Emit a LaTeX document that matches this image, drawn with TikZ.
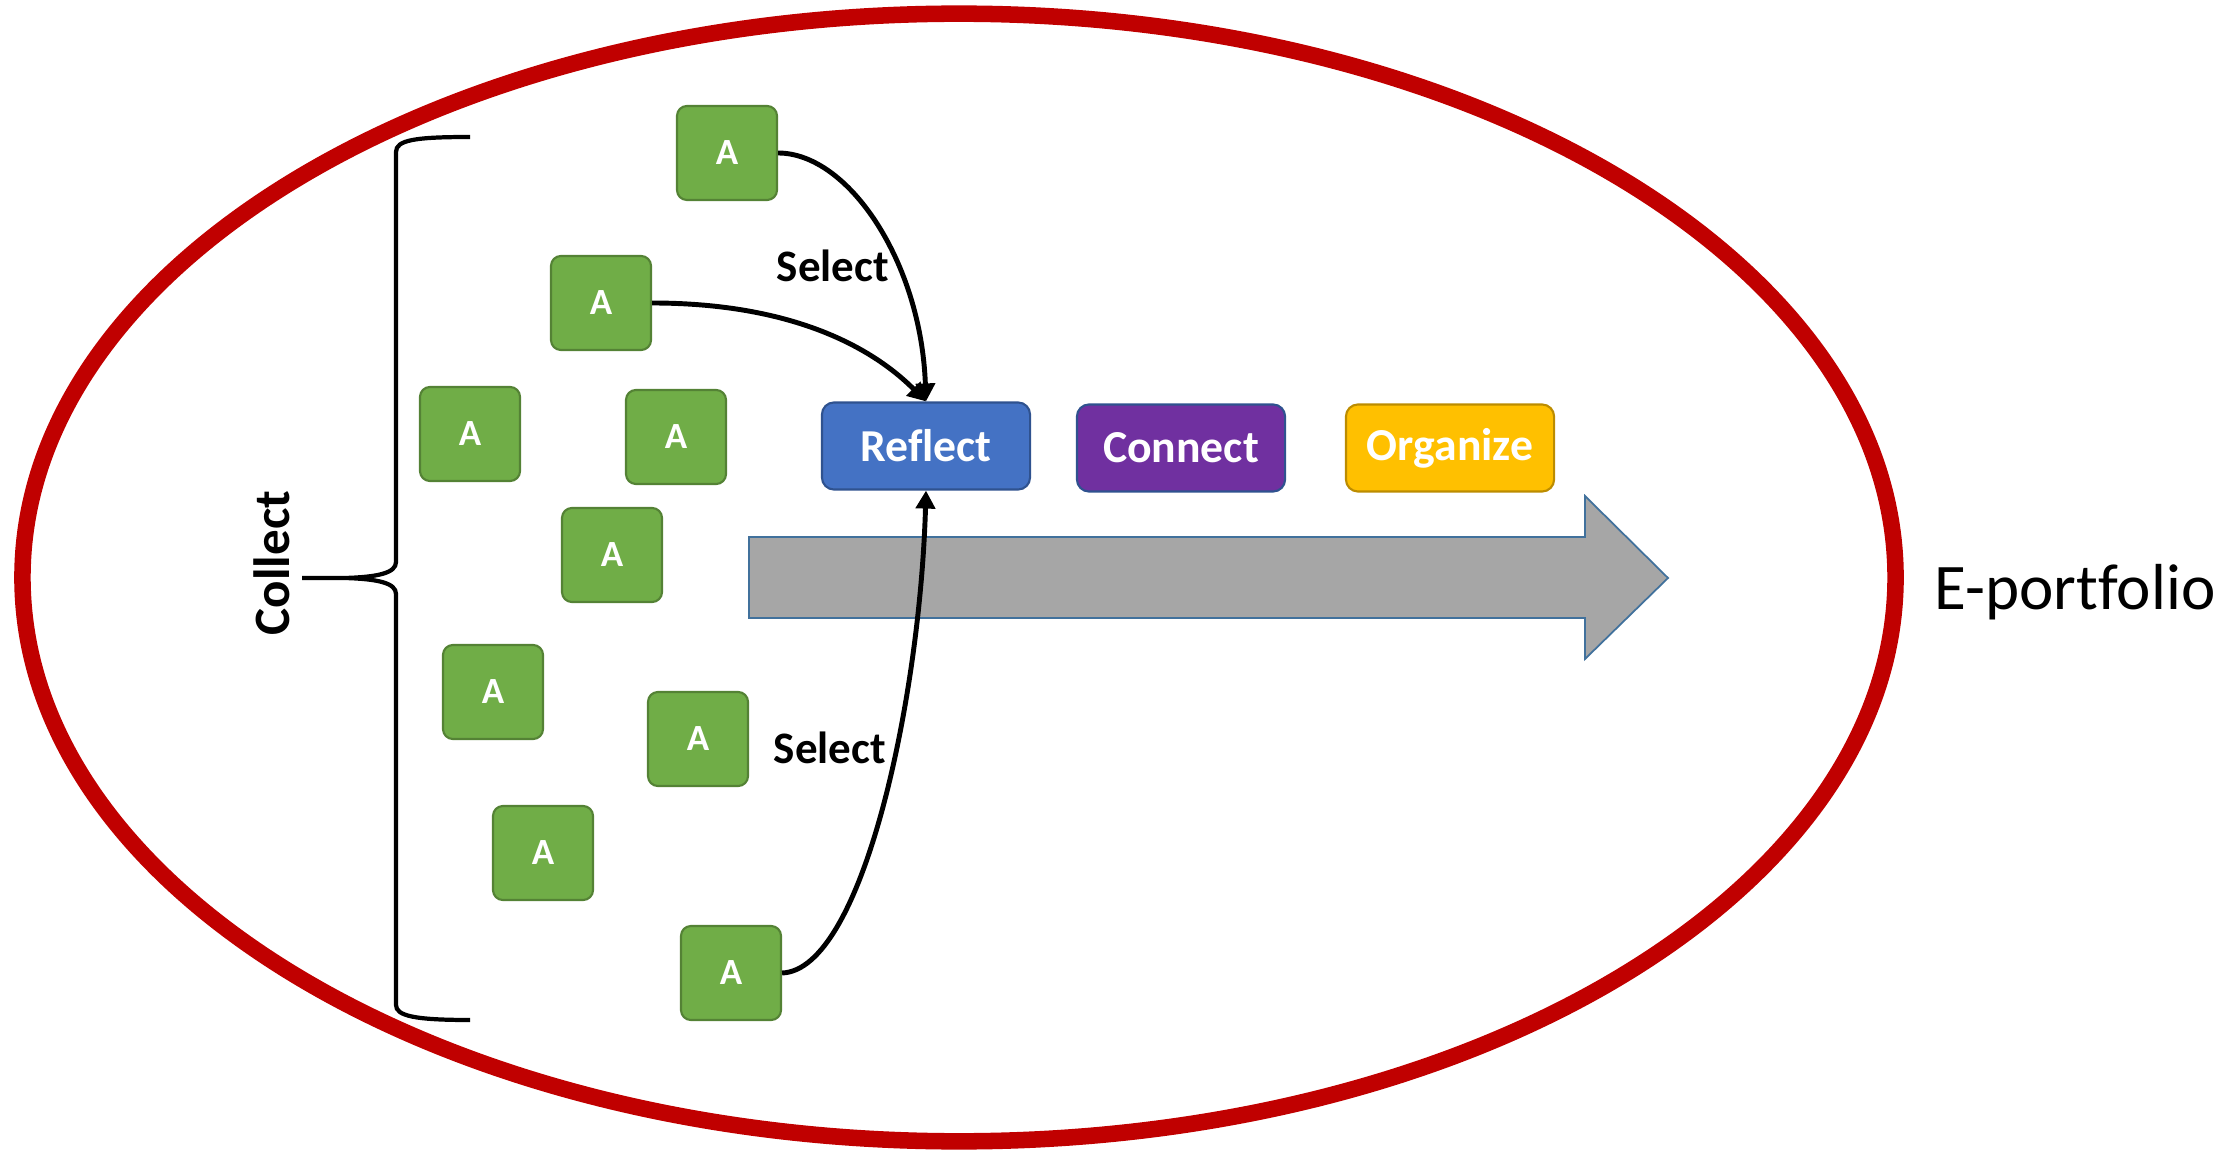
\documentclass[tikz,border=0pt]{standalone}
\usepackage{fontspec}
\setmainfont{Carlito}[Ligatures=NoCommon]
\usetikzlibrary{arrows.meta}
\definecolor{eRed}{HTML}{C00000}
\definecolor{aGreen}{HTML}{70AD47}
\definecolor{aGreenD}{HTML}{548235}
\definecolor{rBlue}{HTML}{4472C4}
\definecolor{rBlueD}{HTML}{2F528F}
\definecolor{cPurple}{HTML}{7030A0}
\definecolor{oGold}{HTML}{FFC000}
\definecolor{oGoldD}{HTML}{BC8C00}
\definecolor{arrGray}{HTML}{A6A6A6}
\definecolor{arrEdge}{HTML}{41719C}
\begin{document}
\begin{tikzpicture}[x=0.01cm,y=-0.01cm,
  abox/.style={rounded corners=0.1cm, fill=aGreen, draw=aGreenD, line width=0.6pt,
    minimum width=1.0cm, minimum height=0.94cm, inner sep=0pt, text=white,
    font=\bfseries\fontsize{10.5}{12}\selectfont},
  stagebox/.style={rounded corners=0.12cm, line width=0.6pt,
    minimum width=2.08cm, minimum height=0.87cm, inner sep=0pt, text=white,
    font=\bfseries\fontsize{13}{15}\selectfont},
  selfont/.style={font=\bfseries\fontsize{12.8}{14}\selectfont, inner sep=0pt},
  conn/.style={line width=1.4pt, -{Triangle[length=1.8mm,width=1.9mm]}},
  bracestyle/.style={line width=1.2pt}]
\useasboundingbox (0,0) rectangle (2233,1152);
% ellipse
\draw[eRed, line width=4.7pt] (959,577.5) ellipse [x radius=9.36cm, y radius=5.635cm];
% gray arrow
\draw[fill=arrGray, draw=arrEdge, line width=0.5pt]
  (749,537) -- (1585,537) -- (1585,496) -- (1668,578) -- (1585,659) -- (1585,618) -- (749,618) -- cycle;
% A boxes
\node[abox] (a1) at (727,153) {A};
\node[abox] (a2) at (601,303) {A};
\node[abox] (a3) at (470,434) {A};
\node[abox] (a4) at (676,437) {A};
\node[abox] (a5) at (612,555) {A};
\node[abox] (a6) at (493,692) {A};
\node[abox] (a7) at (698,739) {A};
\node[abox] (a8) at (543,853) {A};
\node[abox] (a9) at (731,973) {A};
% stages
\node[stagebox, fill=rBlue, draw=rBlueD] (refl) at (926,446) {Reflect};
\node[stagebox, fill=cPurple, draw=rBlueD] (conn) at (1181,448) {Connect};
\node[stagebox, fill=oGold, draw=oGoldD] (org) at (1450,448) {Organize};
% labels
\node[selfont] (sel1) at (833,266) {Select};
\node[selfont] (sel2) at (830,748) {Select};
\node[font=\bfseries\fontsize{14.5}{16}\selectfont, rotate=90, inner sep=0pt] (coll) at (272,563) {Collect};
\node[font=\fontsize{18.5}{20}\selectfont, anchor=base west, inner sep=0pt] (ep) at (1934,610) {E-portfolio};
% connectors
\draw[conn] (a1.east) .. controls +(70,0) and +(-5,-140) .. (refl.north);
\draw[conn] (a2.east) .. controls +(130,0) and +(-60,-60) .. (refl.north);
\draw[conn] (a9.east) .. controls +(80,-3) and +(-6,210) .. (refl.south);
% brace
\coordinate (bt) at (470,137);
\coordinate (bm) at (302,578);
\coordinate (bb) at (470,1020);
\draw[bracestyle] (bt) .. controls (415,137) and (396,140) .. (396,152) -- (396,562)
  .. controls (396,573) and (378,577) .. (345,578) -- (bm) -- (345,578)
  .. controls (378,579) and (396,583) .. (396,594) -- (396,1005)
  .. controls (396,1016) and (415,1020) .. (bb);
\end{tikzpicture}
\end{document}
